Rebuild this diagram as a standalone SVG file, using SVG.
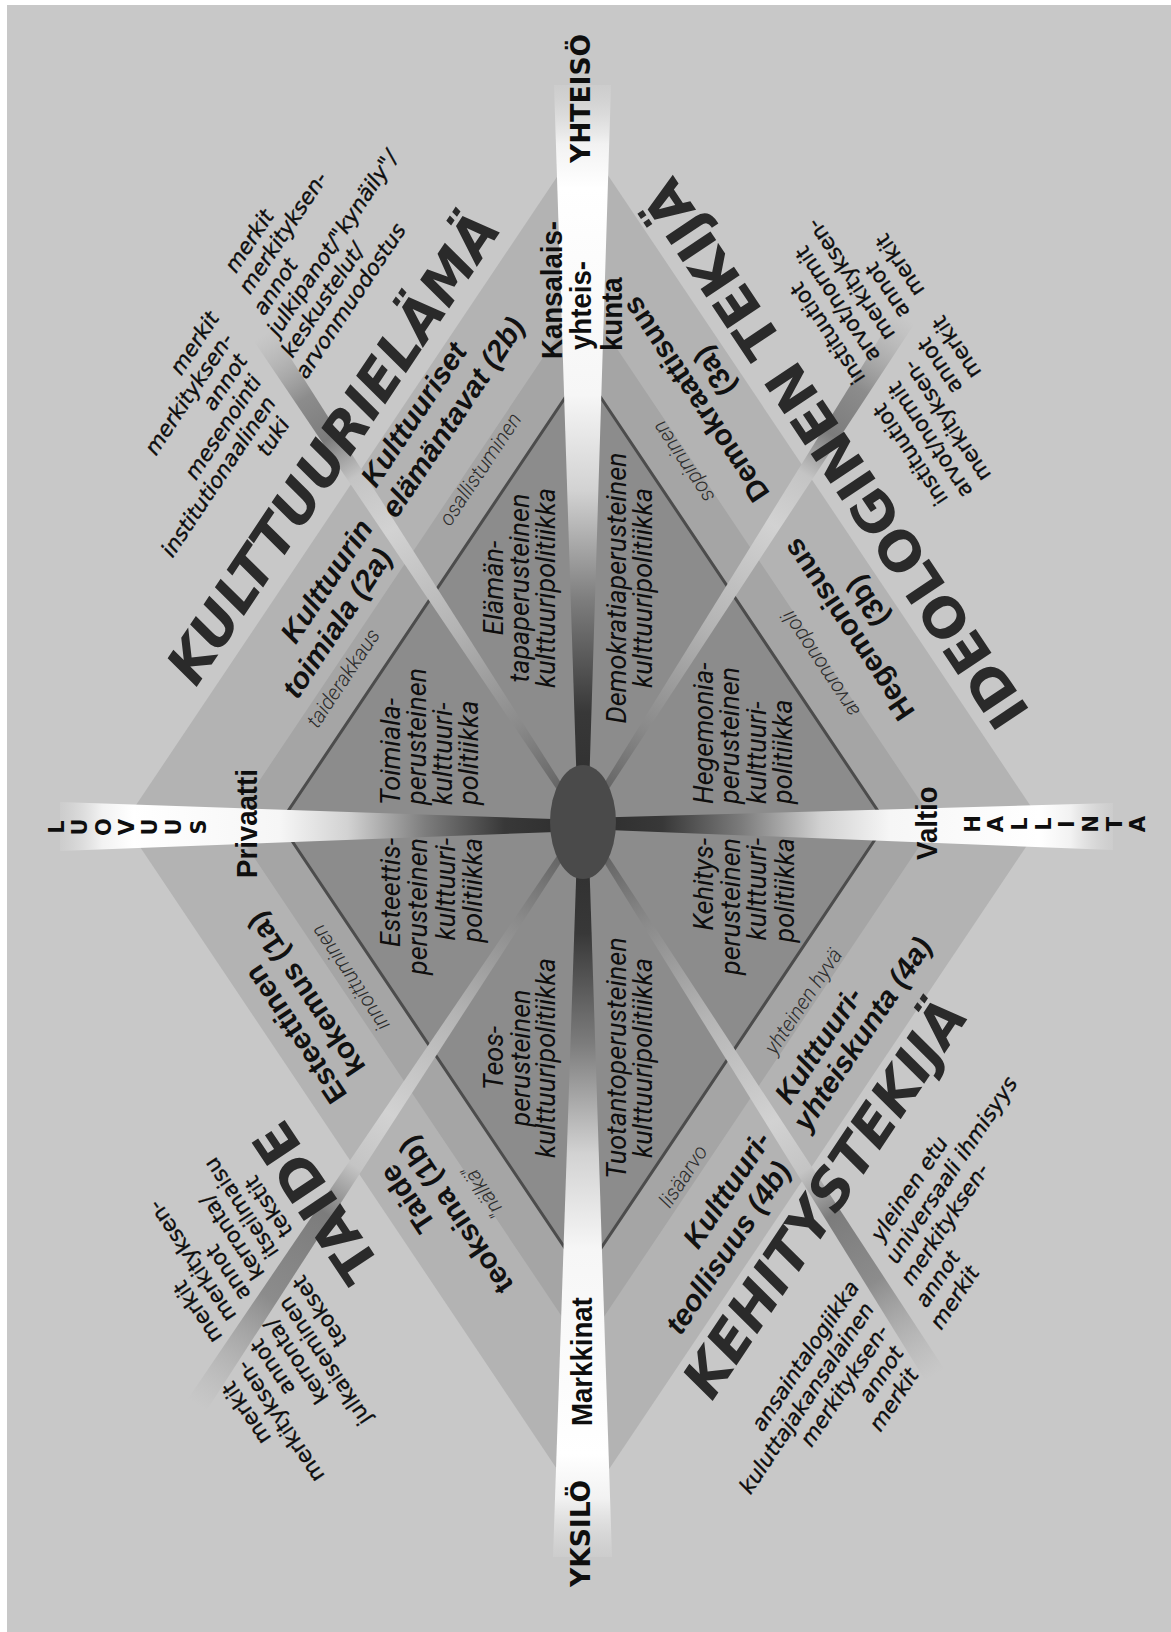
<svg xmlns="http://www.w3.org/2000/svg" width="1171" height="1632" viewBox="0 0 1171 1632">
<defs>
<style>
.big{font-family:"DejaVu Sans",sans-serif;font-weight:bold;font-size:55px;fill:#2a2a2a}
.band{font-family:"Liberation Sans",Arial,sans-serif;font-weight:bold;font-size:29.5px;fill:#111}
.blk{font-family:"DejaVu Sans",sans-serif;font-size:21.5px;fill:#0e0e0e;stroke:#0e0e0e;stroke-width:0.35}
.ob{font-style:oblique}
.sm{font-family:Roboto,"DejaVu Sans",sans-serif;font-style:italic;font-weight:300;font-size:21px;fill:#2c2c2c}
.sec{font-family:Roboto,"DejaVu Sans",sans-serif;font-style:italic;font-size:27px;fill:#0e0e0e}
.ax{font-family:"Liberation Sans",Arial,sans-serif;font-weight:bold;font-size:30px;fill:#0e0e0e}
.ax2{font-family:"DejaVu Sans",sans-serif;font-weight:bold;font-size:26.5px;fill:#0e0e0e}
.lt{font-family:"DejaVu Sans",sans-serif;font-weight:bold;font-size:21px;fill:#0e0e0e;text-anchor:middle}
.e{text-anchor:end}
.m{text-anchor:middle}
</style>
<linearGradient id="gT" gradientUnits="userSpaceOnUse" x1="583" y1="823" x2="583" y2="85">
<stop offset="0" stop-color="#2c2c2c"/>
<stop offset="0.15" stop-color="#383838"/>
<stop offset="0.3" stop-color="#7c7c7c"/>
<stop offset="0.45" stop-color="#d2d2d2"/>
<stop offset="0.58" stop-color="#f6f6f6"/>
<stop offset="0.86" stop-color="#ffffff"/>
<stop offset="0.92" stop-color="#f2f2f2"/>
<stop offset="1" stop-color="#dadada" stop-opacity="0.25"/>
</linearGradient>
<linearGradient id="gB" href="#gT" x1="583" y1="823" x2="583" y2="1557"/>
<linearGradient id="gL" href="#gT" x1="583" y1="826" x2="60" y2="826"/>
<linearGradient id="gR" href="#gT" x1="583" y1="824" x2="1113" y2="824"/>
<linearGradient id="dUL" gradientUnits="userSpaceOnUse" x1="583" y1="823" x2="263" y2="335">
<stop offset="0" stop-color="#505050"/><stop offset="0.2" stop-color="#8a8a8a"/><stop offset="0.4" stop-color="#b4b4b4"/><stop offset="0.6" stop-color="#d2d2d2"/><stop offset="0.71" stop-color="#c4c4c4"/><stop offset="0.79" stop-color="#7c7c7c"/><stop offset="0.87" stop-color="#8c8c8c"/><stop offset="1" stop-color="#a8a8a8" stop-opacity="0"/>
</linearGradient>
<linearGradient id="dUR" gradientUnits="userSpaceOnUse" x1="583" y1="823" x2="905" y2="318">
<stop offset="0" stop-color="#505050"/><stop offset="0.19" stop-color="#8a8a8a"/><stop offset="0.39" stop-color="#b4b4b4"/><stop offset="0.59" stop-color="#d2d2d2"/><stop offset="0.69" stop-color="#c4c4c4"/><stop offset="0.77" stop-color="#7c7c7c"/><stop offset="0.86" stop-color="#8c8c8c"/><stop offset="1" stop-color="#a8a8a8" stop-opacity="0"/>
</linearGradient>
<linearGradient id="dLL" gradientUnits="userSpaceOnUse" x1="583" y1="823" x2="197" y2="1405">
<stop offset="0" stop-color="#505050"/><stop offset="0.165" stop-color="#8a8a8a"/><stop offset="0.33" stop-color="#b4b4b4"/><stop offset="0.5" stop-color="#d2d2d2"/><stop offset="0.59" stop-color="#c4c4c4"/><stop offset="0.67" stop-color="#7c7c7c"/><stop offset="0.815" stop-color="#8c8c8c"/><stop offset="1" stop-color="#a8a8a8" stop-opacity="0"/>
</linearGradient>
<linearGradient id="dLR" gradientUnits="userSpaceOnUse" x1="583" y1="823" x2="935" y2="1375">
<stop offset="0" stop-color="#505050"/><stop offset="0.18" stop-color="#8a8a8a"/><stop offset="0.35" stop-color="#b4b4b4"/><stop offset="0.54" stop-color="#d2d2d2"/><stop offset="0.63" stop-color="#c4c4c4"/><stop offset="0.71" stop-color="#7c7c7c"/><stop offset="0.83" stop-color="#8c8c8c"/><stop offset="1" stop-color="#a8a8a8" stop-opacity="0"/>
</linearGradient>
</defs>

<rect width="1171" height="1632" fill="#ffffff"/>
<rect x="7" y="5" width="1164" height="1627" fill="#c8c8c8"/>

<g id="diamonds">
<polygon id="outer" points="583,138 1042,823 583,1508 124,823" fill="#b3b3b3"/>
<polygon id="middle" points="583,298 935,823 583,1348 231,823" fill="#a5a5a5"/>
<polygon id="inner" points="583,371 886,823 583,1275 280,823" fill="#8c8c8c" stroke="#4c4c4c" stroke-width="3"/>
</g>

<g id="connectors">
<polygon points="578,823 588,823 611,85 554,85" fill="url(#gT)"/>
<polygon points="578,823 588,823 612,1557 553,1557" fill="url(#gB)"/>
<polygon points="583,820 583,831 60,851 60,802" fill="url(#gL)"/>
<polygon points="583,818 583,829 1113,850 1113,803" fill="url(#gR)"/>
<polygon points="585.5,821.4 580.5,824.6 253.8,341 272.2,329" fill="url(#dUL)"/>
<polygon points="585.5,824.6 580.5,821.4 895.7,312.1 914.3,323.9" fill="url(#dUR)"/>
<polygon points="585.5,824.7 580.5,821.3 187.8,1398.9 206.2,1411.1" fill="url(#dLL)"/>
<polygon points="585.5,821.4 580.5,824.6 925.7,1380.9 944.3,1369.1" fill="url(#dLR)"/>
</g>

<g id="center"><ellipse cx="583" cy="822" rx="33" ry="57" fill="#4a4a4a"/></g>

<g id="axis-labels">
<text class="ax2" transform="translate(590,163) rotate(-90)">YHTEISÖ</text>
<text class="ax2" transform="translate(590,1587) rotate(-90)">YKSILÖ</text>
<text class="ax" transform="translate(257,878) rotate(-90) scale(0.92,1)">Privaatti</text>
<text class="ax" transform="translate(937,860) rotate(-90) scale(0.92,1)">Valtio</text>
<text class="ax" transform="translate(592,1426) rotate(-90) scale(0.92,1)">Markkinat</text>
<text class="ax" transform="translate(562,359) rotate(-90) scale(0.92,1)">Kansalais-</text>
<text class="ax" transform="translate(591,350) rotate(-90) scale(0.92,1)">yhteis-</text>
<text class="ax" transform="translate(622,351) rotate(-90) scale(0.92,1)">kunta</text>
</g>

<g id="luovuus">
<text class="lt" transform="translate(56,827) rotate(-90)" y="7.5">L</text>
<text class="lt" transform="translate(79,827) rotate(-90)" y="7.5">U</text>
<text class="lt" transform="translate(103,827) rotate(-90)" y="7.5">O</text>
<text class="lt" transform="translate(126,827) rotate(-90)" y="7.5">V</text>
<text class="lt" transform="translate(149,827) rotate(-90)" y="7.5">U</text>
<text class="lt" transform="translate(173,827) rotate(-90)" y="7.5">U</text>
<text class="lt" transform="translate(198,827) rotate(-90)" y="7.5">S</text>
</g>
<g id="hallinta">
<text class="lt" transform="translate(972,824) rotate(-90)" y="7.5">H</text>
<text class="lt" transform="translate(995.7,824) rotate(-90)" y="7.5">A</text>
<text class="lt" transform="translate(1019.4,824) rotate(-90)" y="7.5">L</text>
<text class="lt" transform="translate(1043.1,824) rotate(-90)" y="7.5">L</text>
<text class="lt" transform="translate(1066.8,824) rotate(-90)" y="7.5">I</text>
<text class="lt" transform="translate(1090.5,824) rotate(-90)" y="7.5">N</text>
<text class="lt" transform="translate(1114.2,824) rotate(-90)" y="7.5">T</text>
<text class="lt" transform="translate(1137.9,824) rotate(-90)" y="7.5">A</text>
</g>

<g id="sectors">
<text class="sec" transform="translate(0,805) rotate(-90)"><tspan x="0" y="400">Toimiala-</tspan><tspan x="0" y="426">perusteinen</tspan><tspan x="0" y="452">kulttuuri-</tspan><tspan x="0" y="478">politiikka</tspan></text>
<text class="sec m" transform="translate(0,588) rotate(-90)"><tspan x="0" y="503">Elämän-</tspan><tspan x="0" y="529">tapaperusteinen</tspan><tspan x="0" y="555">kulttuuripolitiikka</tspan></text>
<text class="sec m" transform="translate(0,588) rotate(-90)"><tspan x="0" y="626">Demokratiaperusteinen</tspan><tspan x="0" y="652">kulttuuripolitiikka</tspan></text>
<text class="sec" transform="translate(0,804) rotate(-90)"><tspan x="0" y="713">Hegemonia-</tspan><tspan x="0" y="739">perusteinen</tspan><tspan x="0" y="766">kulttuuri-</tspan><tspan x="0" y="792">politiikka</tspan></text>
<text class="sec e" transform="translate(0,838) rotate(-90)"><tspan x="0" y="400">Esteettis-</tspan><tspan x="0" y="427">perusteinen</tspan><tspan x="0" y="455">kulttuuri-</tspan><tspan x="0" y="482">politiikka</tspan></text>
<text class="sec e" transform="translate(0,838) rotate(-90)"><tspan x="0" y="713">Kehitys-</tspan><tspan x="0" y="740">perusteinen</tspan><tspan x="0" y="766">kulttuuri-</tspan><tspan x="0" y="794">politiikka</tspan></text>
<text class="sec m" transform="translate(0,1058) rotate(-90)"><tspan x="0" y="503">Teos-</tspan><tspan x="0" y="530">perusteinen</tspan><tspan x="0" y="555">kulttuuripolitiikka</tspan></text>
<text class="sec m" transform="translate(0,1058) rotate(-90)"><tspan x="0" y="626">Tuotantoperusteinen</tspan><tspan x="0" y="652">kulttuuripolitiikka</tspan></text>
</g>

<g id="band-labels">
<text class="band ob e" transform="translate(374,528) rotate(-56.3)"><tspan x="0" y="0">Kulttuurin</tspan><tspan x="-13.5" y="32">toimiala (2a)</tspan></text>
<text class="band ob" transform="translate(376,489) rotate(-56.3)"><tspan x="0" y="0">Kulttuuriset</tspan><tspan x="-14" y="34">elämäntavat (2b)</tspan></text>
<text class="band m" transform="translate(704,394) rotate(-123.7)"><tspan x="0" y="0">Demokraattisuus</tspan><tspan x="13" y="31">(3a)</tspan></text>
<text class="band m" transform="translate(857,624) rotate(-123.7)"><tspan x="0" y="0">Hegemonisuus</tspan><tspan x="13" y="31">(3b)</tspan></text>
<text class="band" transform="translate(348,1095) rotate(-123.7)"><tspan x="0" y="0">Esteettinen</tspan><tspan x="13" y="31">kokemus (1a)</tspan></text>
<text class="band e" transform="translate(395,1162) rotate(-123.7)"><tspan x="0" y="0">Taide</tspan><tspan x="13" y="31">teoksina (1b)</tspan></text>
<text class="band ob e" transform="translate(772,1140) rotate(-56.3)"><tspan x="0" y="0">Kulttuuri-</tspan><tspan x="-14" y="33">teollisuus (4b)</tspan></text>
<text class="band ob" transform="translate(790,1106) rotate(-56.3)"><tspan x="0" y="0">Kulttuuri-</tspan><tspan x="-12" y="30">yhteiskunta (4a)</tspan></text>
</g>

<g id="small-labels">
<text class="sm m" transform="translate(343,678) rotate(-56.3)" dy="0.35em">taiderakkaus</text>
<text class="sm m" transform="translate(480,469) rotate(-56.3)" dy="0.35em">osallistuminen</text>
<text class="sm m" transform="translate(683,462) rotate(-123.7)" dy="0.35em">sopiminen</text>
<text class="sm m" transform="translate(820,664) rotate(-123.7)" dy="0.35em">arvomonopoli</text>
<text class="sm m" transform="translate(350,978) rotate(-123.7)" dy="0.35em">innoittuminen</text>
<text class="sm m" transform="translate(483,1192) rotate(-123.7)" dy="0.35em">"nälkä"</text>
<text class="sm m" transform="translate(803,1001) rotate(-56.3)" dy="0.35em">yhteinen hyvä</text>
<text class="sm m" transform="translate(683,1176) rotate(-56.3)" dy="0.35em">lisäarvo</text>
</g>

<g id="big-labels">
<text class="big ob" transform="translate(196,688) rotate(-56.3)">KULTTUURIELÄMÄ</text>
<text class="big" transform="translate(1031,712) rotate(-123.7)">IDEOLOGINEN TEKIJÄ</text>
<text class="big" transform="translate(382,1266) rotate(-123.7)">TAIDE</text>
<text class="big ob" transform="translate(712,1402) rotate(-56.3)">KEHITYSTEKIJÄ</text>
</g>

<g id="text-blocks">
<text class="blk ob e" transform="translate(220,318) rotate(-56.3)"><tspan x="0" y="0">merkit</tspan><tspan x="-9.8" y="23.5">merkityksen-</tspan><tspan x="-19.6" y="47">annot</tspan><tspan x="-29.4" y="70.5">mesenointi</tspan><tspan x="-39.2" y="94">institutionaalinen</tspan><tspan x="-49" y="117.5">tuki</tspan></text>
<text class="blk ob" transform="translate(236,274) rotate(-56.3)"><tspan x="0" y="0">merkit</tspan><tspan x="-9.8" y="23.5">merkityksen-</tspan><tspan x="-19.6" y="47">annot</tspan><tspan x="-29.4" y="70.5">julkipanot/"kynäily"/</tspan><tspan x="-39.2" y="94">keskustelut/</tspan><tspan x="-49" y="117.5">arvonmuodostus</tspan></text>
<text class="blk" transform="translate(866,378) rotate(-123.7)"><tspan x="0" y="0">instituutiot</tspan><tspan x="10" y="24.5">arvot/normit</tspan><tspan x="20" y="49">merkityksen-</tspan><tspan x="30" y="73.5">annot</tspan><tspan x="40" y="98">merkit</tspan></text>
<text class="blk e" transform="translate(884,402) rotate(-123.7)"><tspan x="0" y="0">instituutiot</tspan><tspan x="10" y="24.5">arvot/normit</tspan><tspan x="20" y="49">merkityksen-</tspan><tspan x="30" y="73.5">annot</tspan><tspan x="40" y="98">merkit</tspan></text>
<text class="blk" transform="translate(223,1337) rotate(-123.7)"><tspan x="0" y="0">merkit</tspan><tspan x="9.8" y="23.5">merkityksen-</tspan><tspan x="19.6" y="47">annot</tspan><tspan x="29.4" y="70.5">kerronta/</tspan><tspan x="39.2" y="94">itseilmaisu</tspan><tspan x="49" y="117.5">tekstit</tspan></text>
<text class="blk e" transform="translate(233,1380) rotate(-123.7)"><tspan x="0" y="0">merkit</tspan><tspan x="9.8" y="23.5">merkityksen-</tspan><tspan x="19.6" y="47">annot</tspan><tspan x="29.4" y="70.5">kerronta/</tspan><tspan x="39.2" y="94">julkaiseminen</tspan><tspan x="49" y="117.5">teokset</tspan></text>
<text class="blk ob e" transform="translate(860,1287) rotate(-56.3)"><tspan x="0" y="0">ansaintalogiikka</tspan><tspan x="-10" y="24.5">kuluttajakansalainen</tspan><tspan x="-20" y="49">merkityksen-</tspan><tspan x="-30" y="73.5">annot</tspan><tspan x="-40" y="98">merkit</tspan></text>
<text class="blk ob" transform="translate(882,1243) rotate(-56.3)"><tspan x="0" y="0">yleinen etu</tspan><tspan x="-10" y="24.5">universaali ihmisyys</tspan><tspan x="-20" y="49">merkityksen-</tspan><tspan x="-30" y="73.5">annot</tspan><tspan x="-40" y="98">merkit</tspan></text>
</g>
</svg>
